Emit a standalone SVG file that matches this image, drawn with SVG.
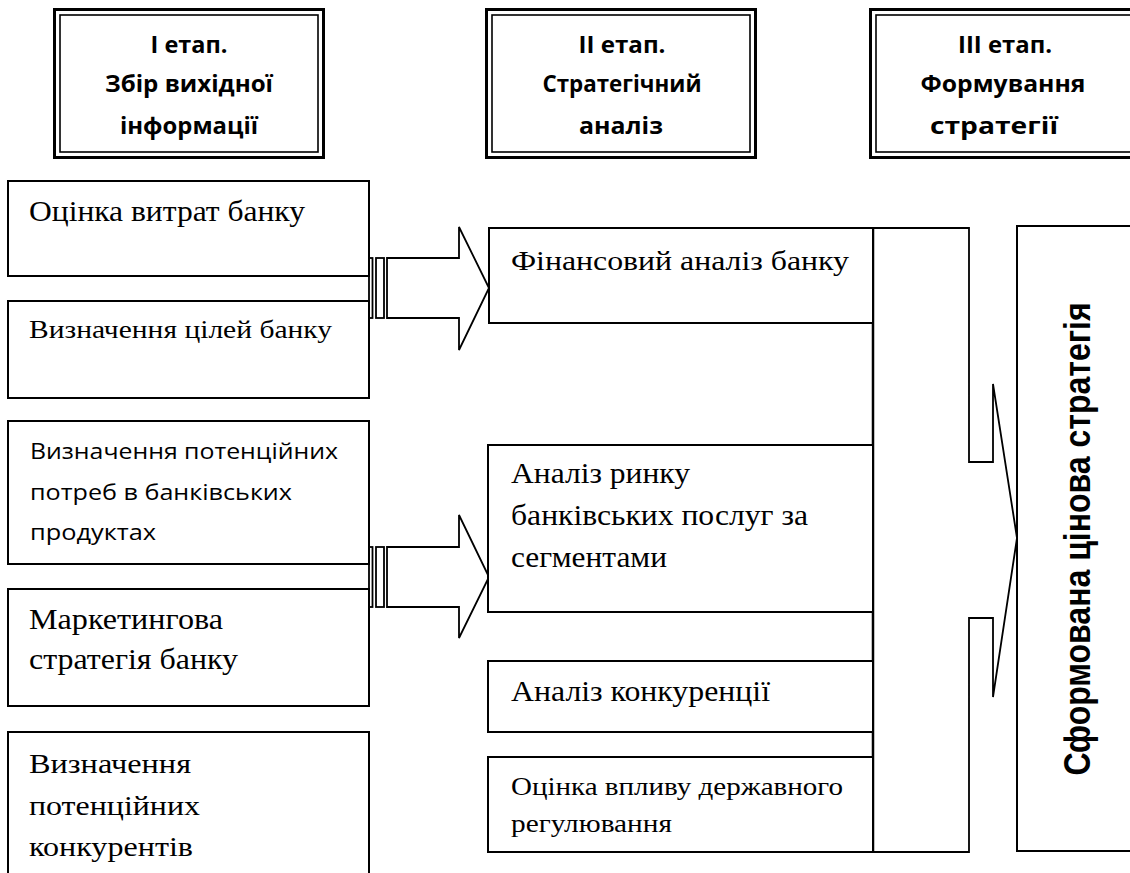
<svg xmlns="http://www.w3.org/2000/svg" width="1130" height="873" viewBox="0 0 1130 873">
<style>
.box{fill:#fff;stroke:#000;stroke-width:2}
.dbo{fill:#fff;stroke:#000;stroke-width:3}
.dbi{fill:none;stroke:#000;stroke-width:1.6}
.arr{fill:#fff;stroke:#000;stroke-width:1.8;stroke-linejoin:miter}
.hd{font-family:"Open Sans","Noto Sans",sans-serif;font-weight:bold;font-size:23px;text-anchor:middle;fill:#000}
.sr{font-family:"Liberation Serif","Times New Roman",serif;fill:#000}
.ss{font-family:"Open Sans","Noto Sans",sans-serif;font-size:22px;fill:#000}
.big{font-family:"Liberation Sans",Arial,sans-serif;font-weight:bold;font-size:32px;text-anchor:middle;fill:#000}
</style>
<rect width="1130" height="873" fill="#fff"/>

<g id="stage1">
<rect class="dbo" x="54.5" y="9.5" width="269" height="148"/>
<rect class="dbi" x="60" y="15" width="258" height="137"/>
<text class="hd" x="189" y="53" textLength="77" lengthAdjust="spacingAndGlyphs">I етап.</text>
<text class="hd" x="189" y="92" textLength="168" lengthAdjust="spacingAndGlyphs">Збір вихідної</text>
<text class="hd" x="189" y="134" textLength="138" lengthAdjust="spacingAndGlyphs">інформації</text>
</g>
<g id="stage2">
<rect class="dbo" x="486.5" y="9.5" width="269" height="148"/>
<rect class="dbi" x="492" y="15" width="258" height="137"/>
<text class="hd" x="622" y="53" textLength="87" lengthAdjust="spacingAndGlyphs">II етап.</text>
<text class="hd" x="622" y="92" textLength="159" lengthAdjust="spacingAndGlyphs">Стратегічний</text>
<text class="hd" x="621" y="134" textLength="84" lengthAdjust="spacingAndGlyphs">аналіз</text>
</g>
<g id="stage3">
<rect class="dbo" x="870.5" y="9.5" width="269" height="148"/>
<rect class="dbi" x="876" y="15" width="258" height="137"/>
<text class="hd" x="1005" y="53" textLength="94" lengthAdjust="spacingAndGlyphs">III етап.</text>
<text class="hd" x="1003" y="92" textLength="165" lengthAdjust="spacingAndGlyphs">Формування</text>
<text class="hd" x="994" y="134" textLength="128" lengthAdjust="spacingAndGlyphs">стратегії</text>
</g>

<g id="connectors">
<rect class="arr" x="369" y="258" width="3.5" height="60"/>
<rect class="arr" x="376" y="258" width="8" height="60"/>
<path class="arr" d="M387,258 H459 V227 L489,288 L459,350 V318 H387 Z"/>
<rect class="arr" x="369" y="547" width="3.5" height="60"/>
<rect class="arr" x="376" y="547" width="8" height="60"/>
<path class="arr" d="M387,547 H459 V515 L489,577 L459,638 V607 H387 Z"/>
<path class="arr" d="M873,228 H969 V462 H993 V384 L1017,538 L993,697 V618 H969 V852 H873 Z"/>
<line x1="873" y1="228" x2="873" y2="852" stroke="#000" stroke-width="2.5"/>
</g>

<g id="costs">
<rect class="box" x="8" y="181" width="361" height="95"/>
<text class="sr" x="29" y="221" font-size="28.5" textLength="276" lengthAdjust="spacingAndGlyphs">Оцінка витрат банку</text>
</g>
<g id="goals">
<rect class="box" x="8" y="301" width="361" height="97"/>
<text class="sr" x="29" y="338" font-size="26" textLength="303" lengthAdjust="spacingAndGlyphs">Визначення цілей банку</text>
</g>
<g id="needs">
<rect class="box" x="8" y="421" width="361" height="143"/>
<text class="ss" x="30" y="459" textLength="308" lengthAdjust="spacingAndGlyphs">Визначення потенційних</text>
<text class="ss" x="30" y="500" textLength="262" lengthAdjust="spacingAndGlyphs">потреб в банківських</text>
<text class="ss" x="30" y="540" textLength="126" lengthAdjust="spacingAndGlyphs">продуктах</text>
</g>
<g id="marketing">
<rect class="box" x="8" y="589" width="361" height="117"/>
<text class="sr" x="29" y="629" font-size="29" textLength="194" lengthAdjust="spacingAndGlyphs">Маркетингова</text>
<text class="sr" x="29" y="669" font-size="29" textLength="209" lengthAdjust="spacingAndGlyphs">стратегія банку</text>
</g>
<g id="competitors">
<rect class="box" x="8" y="732" width="361" height="170"/>
<text class="sr" x="29" y="773" font-size="28" textLength="162" lengthAdjust="spacingAndGlyphs">Визначення</text>
<text class="sr" x="29" y="815" font-size="28" textLength="171" lengthAdjust="spacingAndGlyphs">потенційних</text>
<text class="sr" x="29" y="856" font-size="28" textLength="164" lengthAdjust="spacingAndGlyphs">конкурентів</text>
</g>

<g id="financial">
<rect class="box" x="489" y="228" width="384" height="95"/>
<text class="sr" x="511" y="270" font-size="28" textLength="338" lengthAdjust="spacingAndGlyphs">Фінансовий аналіз банку</text>
</g>
<g id="market">
<rect class="box" x="488" y="445" width="385" height="167"/>
<text class="sr" x="511" y="483" font-size="29" textLength="179" lengthAdjust="spacingAndGlyphs">Аналіз ринку</text>
<text class="sr" x="511" y="525" font-size="29" textLength="297" lengthAdjust="spacingAndGlyphs">банківських послуг за</text>
<text class="sr" x="511" y="567" font-size="29" textLength="156" lengthAdjust="spacingAndGlyphs">сегментами</text>
</g>
<g id="competition">
<rect class="box" x="488" y="661" width="385" height="71"/>
<text class="sr" x="511" y="701" font-size="29" textLength="259" lengthAdjust="spacingAndGlyphs">Аналіз конкуренції</text>
</g>
<g id="regulation">
<rect class="box" x="488" y="757" width="385" height="95"/>
<text class="sr" x="511" y="795" font-size="26" textLength="332" lengthAdjust="spacingAndGlyphs">Оцінка впливу державного</text>
<text class="sr" x="511" y="832" font-size="26" textLength="161" lengthAdjust="spacingAndGlyphs">регулювання</text>
</g>

<g id="result">
<rect class="box" x="1017" y="226" width="130" height="625"/>
<text class="big" transform="translate(1090 539) rotate(-90) scale(1 1.14)" x="0" y="0">Сформована цінова стратегія</text>
</g>
</svg>
